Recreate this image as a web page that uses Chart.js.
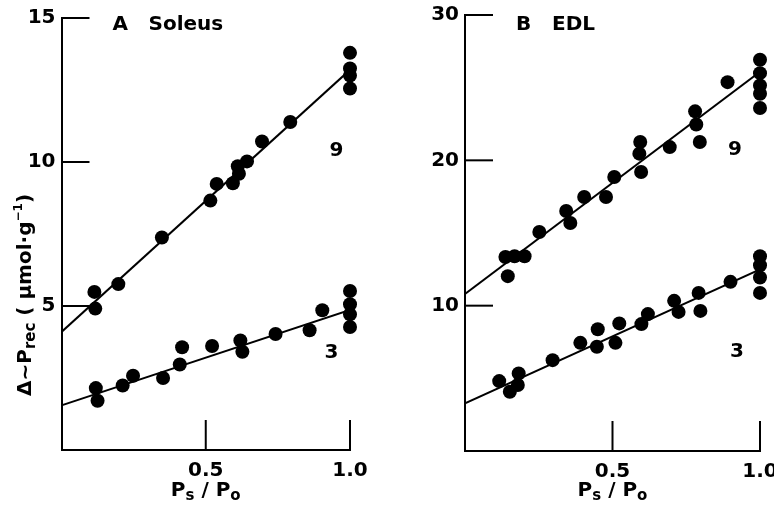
<!DOCTYPE html>
<html>
<head>
<meta charset="utf-8">
<script src="https://cdn.jsdelivr.net/npm/chart.js@4.4.1/dist/chart.umd.min.js"></script>
<style>
  body { margin: 0; background: #fff; }
  #wrap { position: relative; width: 774px; height: 508px; }
  #wrap canvas { position: absolute; top: 0; }
</style>
</head>
<body>
<div id="wrap">
  <canvas id="soleusChart" width="387" height="508" style="left:0"></canvas>
  <canvas id="edlChart" width="387" height="508" style="left:387px"></canvas>
</div>
<script>
// Panel A: Soleus, stimulation frequency 9 and 3
const soleusX9 = [0.114, 0.117, 0.197, 0.348, 0.516, 0.538, 0.594, 0.611, 0.615, 0.643, 0.695, 0.793, 1.0, 1.0, 1.0, 1.0];
const soleusY9 = [5.49, 4.91, 5.76, 7.38, 8.66, 9.24, 9.26, 9.85, 9.59, 10.02, 10.71, 11.39, 13.79, 13.25, 13.0, 12.55];
const soleusX3 = [0.119, 0.125, 0.212, 0.248, 0.352, 0.41, 0.418, 0.522, 0.62, 0.627, 0.742, 0.86, 0.904, 1.0, 1.0, 1.0, 1.0];
const soleusY3 = [2.15, 1.71, 2.24, 2.58, 2.50, 2.97, 3.57, 3.61, 3.80, 3.41, 4.03, 4.16, 4.85, 5.52, 5.06, 4.71, 4.27];

// Panel B: EDL
const edlX9 = [0.137, 0.145, 0.168, 0.202, 0.252, 0.343, 0.357, 0.404, 0.478, 0.506, 0.591, 0.594, 0.597, 0.694, 0.78, 0.784, 0.796, 0.89, 1.0, 1.0, 1.0, 1.0, 1.0];
const edlY9 = [13.35, 12.03, 13.4, 13.4, 15.07, 16.51, 15.69, 17.48, 17.48, 18.85, 20.46, 21.26, 19.2, 20.91, 23.37, 22.47, 21.26, 25.38, 26.92, 26.0, 25.15, 24.58, 23.6];
const edlX3 = [0.116, 0.152, 0.179, 0.182, 0.297, 0.391, 0.447, 0.45, 0.51, 0.523, 0.598, 0.62, 0.709, 0.724, 0.792, 0.798, 0.9, 1.0, 1.0, 1.0, 1.0];
const edlY3 = [4.81, 4.08, 4.54, 5.34, 6.25, 7.44, 7.17, 8.38, 7.44, 8.78, 8.73, 9.42, 10.33, 9.57, 10.88, 9.64, 11.64, 13.4, 12.78, 11.94, 10.88];

// Regression lines, value at Ps/Po = 0 and 1.0
const fitX = [0, 1.0];
const soleusFit9 = [4.1, 13.2];
const soleusFit3 = [1.55, 4.86];
const edlFit9 = [10.8, 26.1];
const edlFit3 = [3.28, 12.5];

// Axis ticks
const xTicks = [0.5, 1.0];
const soleusYTicks = [5, 10, 15];
const edlYTicks = [10, 20, 30];

const FONT = '"DejaVu Sans", sans-serif';

function toPoints(xs, ys) {
  return xs.map((x, i) => ({ x: x, y: ys[i] }));
}

// draws a run of text pieces [text, size, dy] centred on cx
function drawPieces(ctx, pieces, cx, baseY) {
  let total = 0;
  pieces.forEach(p => {
    ctx.font = 'bold ' + p[1] + 'px ' + FONT;
    total += ctx.measureText(p[0]).width;
  });
  let x = cx - total / 2;
  ctx.textAlign = 'left';
  ctx.textBaseline = 'alphabetic';
  pieces.forEach(p => {
    ctx.font = 'bold ' + p[1] + 'px ' + FONT;
    ctx.fillText(p[0], x, baseY + p[2]);
    x += ctx.measureText(p[0]).width;
  });
}

const panelDecor = {
  id: 'panelDecor',
  afterDraw(chart, args, opts) {
    const ctx = chart.ctx;
    const area = chart.chartArea;
    const xs = chart.scales.x;
    const ys = chart.scales.y;
    ctx.save();
    ctx.strokeStyle = '#000';
    ctx.fillStyle = '#000';
    ctx.lineWidth = 2;

    // tick marks point into the plot
    ys.ticks.forEach(t => {
      if (t.value <= 0) return;
      const py = ys.getPixelForValue(t.value);
      ctx.beginPath();
      ctx.moveTo(area.left, py);
      ctx.lineTo(area.left + 28, py);
      ctx.stroke();
    });
    xs.ticks.forEach(t => {
      const px = xs.getPixelForValue(t.value);
      ctx.beginPath();
      ctx.moveTo(px, area.bottom);
      ctx.lineTo(px, area.bottom - 30);
      ctx.stroke();
    });

    // panel letter and muscle name
    ctx.font = 'bold 20px ' + FONT;
    ctx.textAlign = 'left';
    ctx.textBaseline = 'alphabetic';
    ctx.fillText(opts.letter, area.left + 51, 30);
    ctx.fillText(opts.name, area.left + 87, 30);

    // frequency labels next to the lines
    ctx.textAlign = 'center';
    ctx.textBaseline = 'middle';
    opts.lineLabels.forEach(l => {
      ctx.fillText(l.text, xs.getPixelForValue(l.x), ys.getPixelForValue(l.y));
    });

    // x axis title
    drawPieces(ctx, [['P', 20, 0], ['s', 15, 4], [' / ', 20, 0], ['P', 20, 0], ['o', 15, 4]],
      (area.left + area.right) / 2, 496);

    // y axis title (left panel only)
    if (opts.yTitle) {
      ctx.translate(31, 295);
      ctx.rotate(-Math.PI / 2);
      drawPieces(ctx, [['\u0394~P', 20, 0], ['rec', 15, 4], [' ( \u03bcmol\u00b7g', 20, 0], ['\u22121', 12, -9], [')', 20, 0]], 0, 0);
    }
    ctx.restore();
  }
};

function makePanel(canvasId, cfg) {
  const ctx = document.getElementById(canvasId);
  return new Chart(ctx, {
    type: 'scatter',
    data: {
      datasets: [
        { data: toPoints(cfg.x9, cfg.y9), backgroundColor: '#000', borderWidth: 0, pointRadius: 7, clip: false },
        { data: toPoints(cfg.x3, cfg.y3), backgroundColor: '#000', borderWidth: 0, pointRadius: 7, clip: false },
        { type: 'line', data: toPoints(fitX, cfg.fit9), borderColor: '#000', borderWidth: 2, pointRadius: 0, fill: false },
        { type: 'line', data: toPoints(fitX, cfg.fit3), borderColor: '#000', borderWidth: 2, pointRadius: 0, fill: false }
      ]
    },
    options: {
      responsive: false,
      animation: false,
      layout: { padding: { left: 0, right: cfg.padRight, top: cfg.padTop, bottom: 0 } },
      plugins: {
        legend: { display: false },
        tooltip: { enabled: false },
        panelDecor: { letter: cfg.letter, name: cfg.name, lineLabels: cfg.lineLabels, yTitle: cfg.yTitle }
      },
      scales: {
        x: {
          type: 'linear',
          min: 0,
          max: 1.0,
          afterBuildTicks: scale => { scale.ticks = xTicks.map(v => ({ value: v })); },
          afterFit: scale => {
            scale.height = cfg.xAxisHeight;
            // let the last tick label hang past the plot edge
            scale.paddingLeft = 0;
            scale.paddingRight = 0;
          },
          grid: { display: false, drawTicks: false },
          border: { display: true, color: '#000', width: 2 },
          ticks: {
            color: '#000',
            padding: 9,
            font: { family: FONT, size: 20, weight: 'bold' },
            callback: v => v.toFixed(1)
          }
        },
        y: {
          type: 'linear',
          min: 0,
          max: cfg.yMax,
          afterBuildTicks: scale => { scale.ticks = cfg.yTicks.map(v => ({ value: v })); },
          afterFit: scale => {
            scale.width = cfg.yAxisWidth;
            scale.paddingTop = 0;
            scale.paddingBottom = 0;
          },
          grid: { display: false, drawTicks: false },
          border: { display: true, color: '#000', width: 2 },
          ticks: {
            color: '#000',
            padding: 6,
            font: { family: FONT, size: 20, weight: 'bold' }
          }
        }
      }
    },
    plugins: [panelDecor]
  });
}

makePanel('soleusChart', {
  x9: soleusX9, y9: soleusY9, x3: soleusX3, y3: soleusY3,
  fit9: soleusFit9, fit3: soleusFit3,
  yMax: 15, yTicks: soleusYTicks,
  letter: 'A', name: 'Soleus',
  lineLabels: [{ text: '9', x: 0.953, y: 10.4 }, { text: '3', x: 0.936, y: 3.36 }],
  yTitle: true,
  yAxisWidth: 61.5, xAxisHeight: 58, padTop: 18, padRight: 37
});

makePanel('edlChart', {
  x9: edlX9, y9: edlY9, x3: edlX3, y3: edlY3,
  fit9: edlFit9, fit3: edlFit3,
  yMax: 30, yTicks: edlYTicks,
  letter: 'B', name: 'EDL',
  lineLabels: [{ text: '9', x: 0.915, y: 20.7 }, { text: '3', x: 0.922, y: 6.8 }],
  yTitle: false,
  yAxisWidth: 78, xAxisHeight: 57, padTop: 15, padRight: 14
});
</script>
</body>
</html>
